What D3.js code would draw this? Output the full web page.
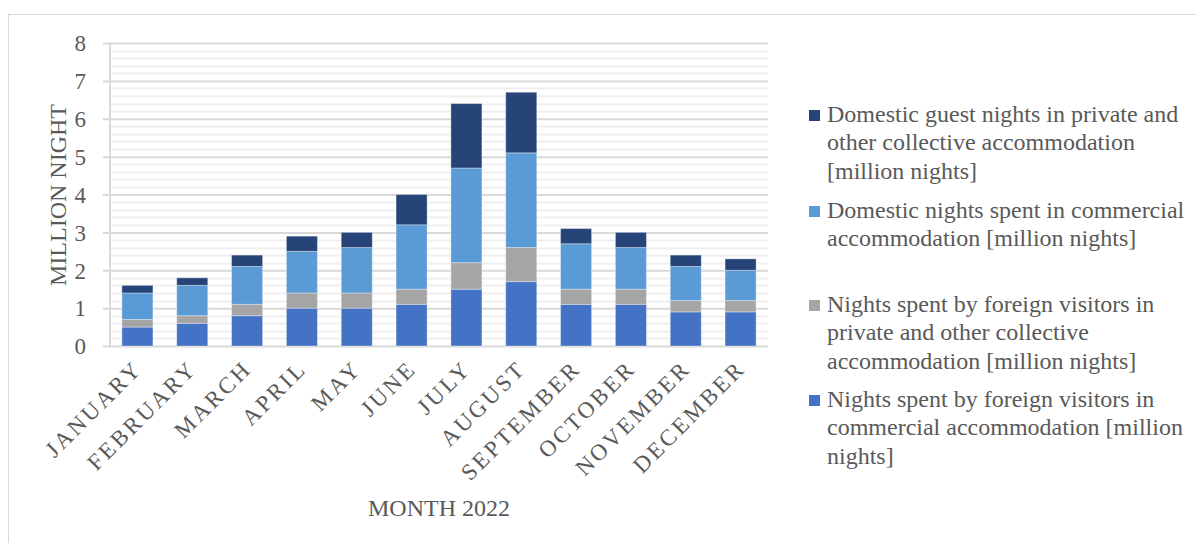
<!DOCTYPE html>
<html><head><meta charset="utf-8">
<script src="https://cdn.jsdelivr.net/npm/d3@7"></script>
<style>body{margin:0;background:#fff;}svg{display:block;font-family:"Liberation Serif","Times New Roman",serif;}</style>
</head><body><svg id="c" width="1196" height="543"></svg>
<script>
const months = ["JANUARY","FEBRUARY","MARCH","APRIL","MAY","JUNE","JULY","AUGUST","SEPTEMBER","OCTOBER","NOVEMBER","DECEMBER"];
const foreignCommercial = [0.5,0.6,0.8,1.0,1.0,1.1,1.5,1.7,1.1,1.1,0.9,0.9];
const foreignPrivate    = [0.2,0.2,0.3,0.4,0.4,0.4,0.7,0.9,0.4,0.4,0.3,0.3];
const domesticCommercial= [0.7,0.8,1.0,1.1,1.2,1.7,2.5,2.5,1.2,1.1,0.9,0.8];
const domesticPrivate   = [0.2,0.2,0.3,0.4,0.4,0.8,1.7,1.6,0.4,0.4,0.3,0.3];
const yTicks = [0,1,2,3,4,5,6,7,8];
const seriesNames = [
  "Nights spent by foreign visitors in commercial accommodation [million nights]",
  "Nights spent by foreign visitors in private and other collective accommodation [million nights]",
  "Domestic nights spent in commercial accommodation [million nights]",
  "Domestic guest nights in private and other collective accommodation [million nights]"
];
const legendLines = [
  ["Nights spent by foreign visitors in","commercial accommodation [million","nights]"],
  ["Nights spent by foreign visitors in","private and other collective","accommodation [million nights]"],
  ["Domestic nights spent in commercial","accommodation [million nights]"],
  ["Domestic guest nights in private and","other collective accommodation","[million nights]"]
];
const colors = ["#4472C4","#A5A5A5","#5B9BD5","#264478"];
const yTitle = "MILLION NIGHT", xTitle = "MONTH 2022";

const svg = d3.select("#c");
const txt = "#595959";
const FF = "Liberation Serif";
svg.append("rect").attr("x",8.5).attr("y",14.5).attr("width",1200).attr("height",540)
  .attr("fill","none").attr("stroke","#d9d9d9");

const L=110, R=768, T=43, B=346;
const x = d3.scaleBand().domain(months).range([L,R]).paddingInner(0.434).paddingOuter(0.217);
const y = d3.scaleLinear().domain([0,8]).range([B,T]);

// minor gridlines
const minor = d3.range(0,8.001,0.2).filter(v=>Math.abs(v-Math.round(v))>1e-6);
svg.append("g").selectAll("line").data(minor).join("line")
  .attr("x1",L).attr("x2",R).attr("y1",d=>Math.round(y(d))+0.5).attr("y2",d=>Math.round(y(d))+0.5)
  .attr("stroke","#efefef").attr("stroke-width",2);
// major gridlines
const yAxis = d3.axisLeft(y).tickValues(yTicks).tickSize(R-L+7).tickPadding(17).tickFormat(d3.format("d"));
const gy = svg.append("g").attr("transform",`translate(${R},0)`).call(yAxis);
gy.select(".domain").remove();
gy.selectAll(".tick line").attr("stroke","#d9d9d9").attr("stroke-width",2);
gy.selectAll(".tick text").attr("fill",txt).attr("font-size",23).attr("font-family",FF).attr("dy","0.34em");
svg.append("line").attr("x1",L).attr("x2",L).attr("y1",T).attr("y2",B).attr("stroke","#d9d9d9").attr("stroke-width",2);

const data = months.map((m,i)=>({m, s0:foreignCommercial[i], s1:foreignPrivate[i], s2:domesticCommercial[i], s3:domesticPrivate[i]}));
const stack = d3.stack().keys(["s0","s1","s2","s3"])(data);
svg.append("g").selectAll("g").data(stack).join("g").attr("fill",(d,i)=>colors[i])
  .selectAll("rect").data(d=>d).join("rect")
  .attr("x",d=>x(d.data.m)).attr("width",x.bandwidth())
  .attr("y",d=>y(d[1])).attr("height",d=>y(d[0])-y(d[1]))
  .attr("stroke","#ffffff").attr("stroke-opacity",0.35).attr("stroke-width",1);

// x labels
const xAxis = d3.axisBottom(x).tickSize(0).tickPadding(0);
const gx = svg.append("g").attr("transform",`translate(0,${B})`).call(xAxis);
gx.select(".domain").remove();
gx.selectAll(".tick text").attr("fill",txt).attr("font-size",23).attr("font-family",FF)
  .attr("letter-spacing",2.8).attr("text-anchor","end").attr("dy",0)
  .attr("transform","translate(6,24) rotate(-45)");

svg.append("text").attr("transform",`translate(66,195) rotate(-90)`).attr("text-anchor","middle")
  .attr("fill",txt).attr("font-size",24).text(yTitle);
svg.append("text").attr("x",439).attr("y",516).attr("text-anchor","middle")
  .attr("fill",txt).attr("font-size",24).text(xTitle);

// legend (top to bottom reversed)
const legBase = [122,218,312,407];
const order = [3,2,1,0];
order.forEach((si,k)=>{
  const g = svg.append("g");
  g.append("rect").attr("x",809).attr("y",legBase[k]-12).attr("width",11).attr("height",11).attr("fill",colors[si]);
  legendLines[si].forEach((ln,j)=>{
    g.append("text").attr("x",827).attr("y",legBase[k]+j*28.3).attr("fill",txt).attr("font-size",24).text(ln);
  });
});
</script></body></html>
